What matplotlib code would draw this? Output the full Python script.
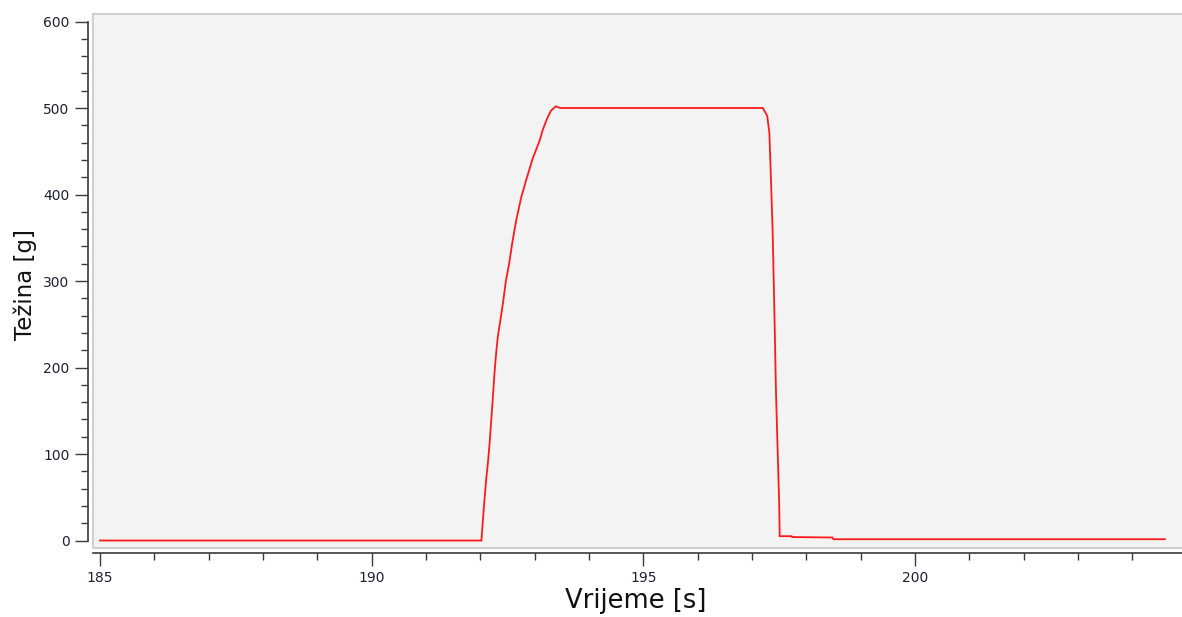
import matplotlib
matplotlib.use("Agg")
import matplotlib.pyplot as plt
from matplotlib.patches import Rectangle

# Data
time_s = [185.0, 192.02, 192.05, 192.08, 192.11, 192.14, 192.17, 192.20, 192.23,
          192.26, 192.29, 192.32, 192.37, 192.42, 192.47, 192.53, 192.59, 192.66,
          192.75, 192.84, 192.96, 193.09, 193.15, 193.23, 193.30, 193.39, 193.47,
          197.20, 197.28, 197.32, 197.35, 197.38, 197.40, 197.42, 197.44, 197.47,
          197.50, 197.51, 197.73, 197.74, 198.48, 198.50, 204.6]
weight_g = [0, 0, 26, 50, 72, 90, 112, 138, 165,
            193, 216, 235, 255, 276, 300, 320, 345, 370,
            396, 416, 441, 462, 475, 488, 497, 502, 500,
            500, 491, 471, 416, 358, 300, 241, 176, 109,
            44, 5, 5, 4, 3.5, 1.5, 1.5]

x_major = [185, 190, 195, 200]
y_major = [0, 100, 200, 300, 400, 500, 600]
x_label = "Vrijeme [s]"
y_label = "Težina [g]"

W, H = 1182, 617
fig = plt.figure(figsize=(W / 100, H / 100), dpi=100)
fig.patch.set_facecolor("white")

left_px, right_px, top_px, bottom_px = 93, 1188, 14, 548.3
ax = fig.add_axes([left_px / W, (H - bottom_px) / H,
                   (right_px - left_px) / W, (bottom_px - top_px) / H])
ax.set_facecolor("#f3f3f3")

ax.plot(time_s, weight_g, color="#ff1a1a", lw=1.3, solid_joinstyle="miter")

ax.set_xlim(184.871, 205.025)
ax.set_ylim(-9.0, 608.7)

# panel border
ax.add_patch(Rectangle((0, 0), 1, 1, transform=ax.transAxes, fill=False,
                       edgecolor="#cfcfcf", lw=1.5, clip_on=False, zorder=5))

for s in ["top", "right"]:
    ax.spines[s].set_visible(False)
ax.spines["left"].set_position(("outward", 3.9))
ax.spines["bottom"].set_position(("outward", 3.6))
ax.spines["left"].set_bounds(0, 600)
for s in ["left", "bottom"]:
    ax.spines[s].set_color("#3a3a3a")
    ax.spines[s].set_linewidth(1.2)

ax.set_xticks(x_major)
ax.set_yticks(y_major)
ax.set_xticks([v for v in range(185, 205) if v not in x_major], minor=True)
ax.set_yticks([v for v in range(0, 601, 20) if v not in y_major], minor=True)

ax.tick_params(axis="both", which="major", length=9.4, width=1.0,
               color="#3a3a3a", labelsize=10, labelcolor="#202030")
ax.tick_params(axis="both", which="minor", length=5.0, width=1.0,
               color="#3a3a3a")
ax.tick_params(axis="y", which="major", pad=3.6)
ax.tick_params(axis="x", which="major", pad=3.0)

fig.text(636 / W, 1 - 601 / H, x_label, ha="center", va="center",
         fontsize=18.5, color="#111111")
fig.text(25 / W, 1 - 285 / H, y_label, ha="center", va="center",
         rotation=90, fontsize=16.5, color="#111111")

fig.savefig("out.png", dpi=100)
